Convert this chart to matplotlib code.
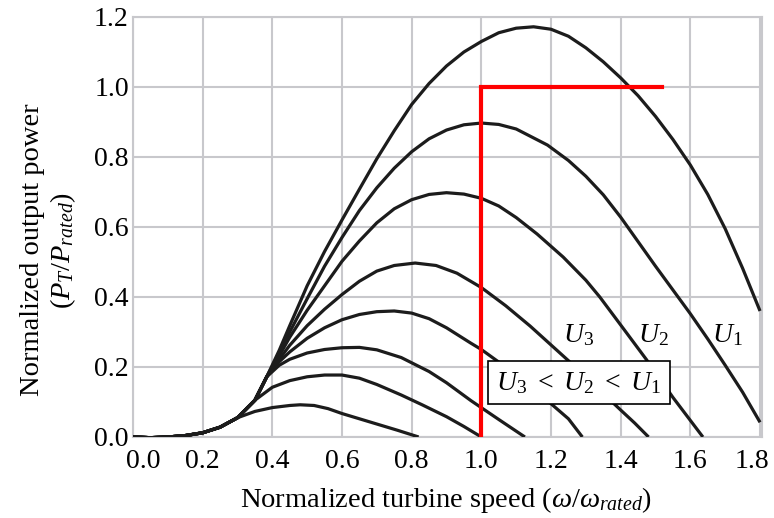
import matplotlib
matplotlib.use("Agg")
import matplotlib.pyplot as plt
from matplotlib.transforms import ScaledTranslation

plt.rcParams["font.family"] = ["Liberation Serif", "DejaVu Serif"]
plt.rcParams["mathtext.fontset"] = "custom"
plt.rcParams["mathtext.rm"] = "Liberation Serif"
plt.rcParams["mathtext.it"] = "Liberation Serif:italic"
plt.rcParams["mathtext.bf"] = "Liberation Serif:bold"

# shared start of all curves (normalized speed, normalized power)
speed_start = [0.00, 0.05, 0.10, 0.15, 0.20, 0.25, 0.30]
power_start = [0.000, -0.002, 0.000, 0.004, 0.012, 0.028, 0.055]

# curves from lowest wind speed to highest
speed_1 = [0.35, 0.40, 0.45, 0.48, 0.52, 0.56, 0.60, 0.65, 0.70, 0.76, 0.82]
power_1 = [0.073, 0.084, 0.090, 0.092, 0.090, 0.081, 0.067, 0.052, 0.037, 0.019, 0.000]

speed_2 = [0.35, 0.40, 0.45, 0.50, 0.55, 0.60, 0.65, 0.70, 0.77, 0.83, 0.90, 0.95, 1.00]
power_2 = [0.105, 0.142, 0.161, 0.172, 0.177, 0.177, 0.168, 0.150, 0.120, 0.092, 0.058, 0.030, 0.000]

speed_3 = [0.35, 0.384, 0.42, 0.45, 0.50, 0.55, 0.60, 0.65, 0.70, 0.77, 0.85, 0.90, 0.97, 1.05, 1.125]
power_3 = [0.105, 0.172, 0.205, 0.222, 0.240, 0.250, 0.255, 0.256, 0.249, 0.227, 0.187, 0.155, 0.104, 0.050, 0.000]

speed_4 = [0.35, 0.384, 0.42, 0.45, 0.50, 0.55, 0.60, 0.65, 0.70, 0.75, 0.80, 0.85, 0.90, 0.97,
           1.00, 1.05, 1.10, 1.15, 1.20, 1.25, 1.29]
power_4 = [0.105, 0.172, 0.215, 0.243, 0.282, 0.312, 0.335, 0.350, 0.358, 0.360, 0.354, 0.338, 0.312, 0.268,
           0.250, 0.214, 0.175, 0.135, 0.095, 0.052, 0.000]

speed_5 = [0.35, 0.384, 0.42, 0.45, 0.50, 0.55, 0.60, 0.65, 0.70, 0.75, 0.81, 0.87, 0.93, 1.00,
           1.07, 1.14, 1.20, 1.25, 1.30, 1.35, 1.40, 1.44, 1.48]
power_5 = [0.105, 0.172, 0.222, 0.262, 0.318, 0.365, 0.407, 0.445, 0.474, 0.490, 0.497, 0.490, 0.468, 0.427,
           0.375, 0.317, 0.263, 0.218, 0.170, 0.124, 0.077, 0.040, 0.000]

speed_6 = [0.35, 0.384, 0.42, 0.45, 0.50, 0.55, 0.60, 0.65, 0.70, 0.75, 0.80, 0.85, 0.90, 0.95, 1.00,
           1.05, 1.10, 1.16, 1.235, 1.30, 1.34, 1.40, 1.474, 1.55, 1.636]
power_6 = [0.105, 0.172, 0.232, 0.285, 0.362, 0.432, 0.502, 0.560, 0.612, 0.652, 0.678, 0.693, 0.698, 0.694, 0.682,
           0.660, 0.627, 0.580, 0.514, 0.448, 0.400, 0.320, 0.221, 0.113, 0.000]

speed_7 = [0.35, 0.384, 0.42, 0.45, 0.50, 0.55, 0.60, 0.65, 0.70, 0.75, 0.80, 0.85, 0.90, 0.95, 1.00,
           1.05, 1.10, 1.19, 1.25, 1.30, 1.35, 1.40, 1.45, 1.50, 1.55, 1.60, 1.65, 1.70, 1.75, 1.80]
power_7 = [0.105, 0.172, 0.240, 0.300, 0.395, 0.488, 0.570, 0.647, 0.712, 0.768, 0.815, 0.852, 0.877, 0.892, 0.897,
           0.893, 0.880, 0.834, 0.790, 0.745, 0.692, 0.628, 0.558, 0.488, 0.420, 0.352, 0.280, 0.205, 0.128, 0.042]

speed_8 = [0.35, 0.384, 0.42, 0.45, 0.50, 0.55, 0.60, 0.65, 0.70, 0.75, 0.80, 0.85, 0.90, 0.95, 1.00,
           1.05, 1.10, 1.15, 1.20, 1.25, 1.30, 1.35, 1.40, 1.45, 1.50, 1.55, 1.60, 1.65, 1.70, 1.75, 1.80]
power_8 = [0.105, 0.172, 0.248, 0.318, 0.432, 0.530, 0.620, 0.708, 0.795, 0.875, 0.950, 1.010, 1.060, 1.100, 1.130,
           1.155, 1.168, 1.172, 1.165, 1.145, 1.112, 1.072, 1.026, 0.975, 0.916, 0.850, 0.777, 0.693, 0.595, 0.482, 0.360]

# rated power limit (red)
limit_speed = [1.00, 1.00, 1.52]
limit_power = [0.00, 1.00, 1.00]

curve_labels = [r"$U_\mathit{3}$", r"$U_\mathit{2}$", r"$U_\mathit{1}$"]
label_speed = [1.28, 1.495, 1.705]
label_power = [0.29, 0.29, 0.29]

x_ticks = [0.0, 0.2, 0.4, 0.6, 0.8, 1.0, 1.2, 1.4, 1.6, 1.8]
y_ticks = [0.0, 0.2, 0.4, 0.6, 0.8, 1.0, 1.2]

GRID = "#c8c8cc"

fig = plt.figure(figsize=(7.74, 5.18), dpi=100)
ax = fig.add_axes([0.1718, 0.1564, 0.8124, 0.8108])

curves = [(speed_1, power_1), (speed_2, power_2), (speed_3, power_3), (speed_4, power_4),
          (speed_5, power_5), (speed_6, power_6), (speed_7, power_7), (speed_8, power_8)]
for sp, pw in curves:
    ax.plot(speed_start + sp, power_start + pw, color="#1c1c1c", lw=2.3,
            solid_capstyle="butt", solid_joinstyle="round", zorder=3)

ax.plot(limit_speed, limit_power, color="#ff0000", lw=3.0, solid_joinstyle="miter", zorder=4)

for txt, x, y in zip(curve_labels, label_speed, label_power):
    ax.text(x, y, txt, fontsize=20, ha="center", va="center", zorder=5)

ax.text(1.28, 0.155, r"$U_\mathit{3}\ <\ U_\mathit{2}\ <\ U_\mathit{1}$", fontsize=20,
        ha="center", va="center", zorder=6,
        bbox=dict(boxstyle="square,pad=0.3", fc="white", ec="black", lw=1.2))

ax.set_xlim(0, 1.805)
ax.set_ylim(0, 1.2)
ax.set_xticks(x_ticks)
ax.set_xticklabels([f"{v:.1f}" for v in x_ticks])
ax.set_yticks(y_ticks)
ax.set_yticklabels([f"{v:.1f}" for v in y_ticks])
ax.tick_params(length=0, labelsize=20)
ax.tick_params(axis="x", pad=9)
ax.tick_params(axis="y", pad=3)
ax.grid(True, color=GRID, lw=1.5, zorder=0)
ax.set_axisbelow(True)
for s in ax.spines.values():
    s.set_color(GRID)
    s.set_linewidth(1.5)

# first and last x labels sit a little inward
xlabels = ax.get_xticklabels()
xlabels[0].set_transform(xlabels[0].get_transform() + ScaledTranslation(0.10, 0, fig.dpi_scale_trans))
xlabels[-1].set_transform(xlabels[-1].get_transform() + ScaledTranslation(-0.08, 0, fig.dpi_scale_trans))

ax.set_xlabel(r"Normalized turbine speed ($\omega/\omega_{rated}$)", fontsize=20.5)
ax.set_ylabel("Normalized output power\n($P_T/P_{rated}$)", fontsize=20.5, linespacing=1.15)
ax.xaxis.set_label_coords(0.498, -0.115)
ax.yaxis.set_label_coords(-0.088, 0.445)

fig.savefig("out.png", dpi=100)
